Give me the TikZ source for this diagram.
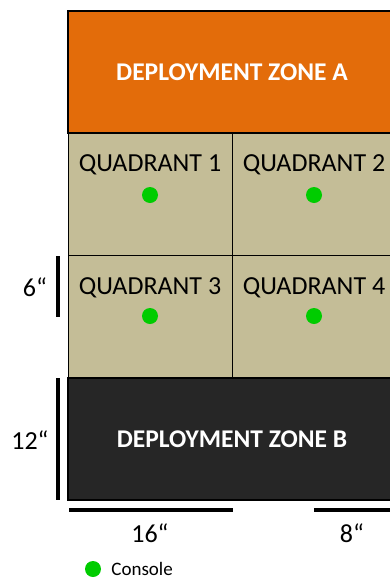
\documentclass[tikz,border=0pt]{standalone}
\usepackage{fontspec}
\setmainfont{Carlito}
\usetikzlibrary{positioning}
\definecolor{zoneorange}{HTML}{E36C0A}
\definecolor{zonedark}{HTML}{262626}
\definecolor{quadtan}{HTML}{C4BD97}
\definecolor{consolegreen}{HTML}{00CC00}

\begin{document}
\begin{tikzpicture}[x=1pt, y=-1pt,
    zone/.style={rectangle, draw=black, line width=1.2pt, minimum width=328pt, minimum height=122pt, text=white, font=\fontsize{25.5}{28}\selectfont\bfseries},
    quad/.style={rectangle, draw=black, line width=0.8pt, fill=quadtan, minimum width=164pt, minimum height=122pt},
    quadlabel/.style={font=\fontsize{26}{28}\selectfont, inner sep=0pt},
    console/.style={circle, fill=consolegreen, minimum size=16pt, inner sep=0pt},
    dimbar/.style={line width=4pt},
    dimlabel/.style={font=\fontsize{26}{28}\selectfont, inner sep=0pt}]
      \useasboundingbox (0,0) rectangle (390,579);

      % Deployment zones
      \node[zone, fill=zoneorange] (zoneA) at (232,72) {DEPLOYMENT ZONE A};
      \node[zone, fill=zonedark] (zoneB) at (232,439) {DEPLOYMENT ZONE B};

      % Quadrants
      \node[quad] (q1) at (150,194) {};
      \node[quad] (q2) at (314,194) {};
      \node[quad] (q3) at (150,316) {};
      \node[quad] (q4) at (314,316) {};
      \node[quadlabel] (q1label) at (150,165) {QUADRANT 1};
      \node[quadlabel] (q2label) at (314,165) {QUADRANT 2};
      \node[quadlabel] (q3label) at (150,288) {QUADRANT 3};
      \node[quadlabel] (q4label) at (314,288) {QUADRANT 4};
      \node[console] (c1) at (150,195) {};
      \node[console] (c2) at (314,195) {};
      \node[console] (c3) at (150,316) {};
      \node[console] (c4) at (314,316) {};

      % Dimensions
      \draw[dimbar] (58,256) -- (58,317);
      \node[dimlabel] (six) at (35,287) {6“};
      \draw[dimbar] (58,378) -- (58,500);
      \node[dimlabel] (twelve) at (30,440) {12“};
      \draw[dimbar] (69,510) -- (233,510);
      \node[dimlabel] (sixteen) at (150,533) {16“};
      \draw[dimbar] (314,510) -- (396,510);
      \node[dimlabel] (eight) at (352,533) {8“};

      % Legend
      \node[console] (legenddot) at (93,569) {};
      \node[right=10pt of legenddot, font=\fontsize{19}{21}\selectfont, inner sep=0pt] (legendtext) {Console};
\end{tikzpicture}
\end{document}
